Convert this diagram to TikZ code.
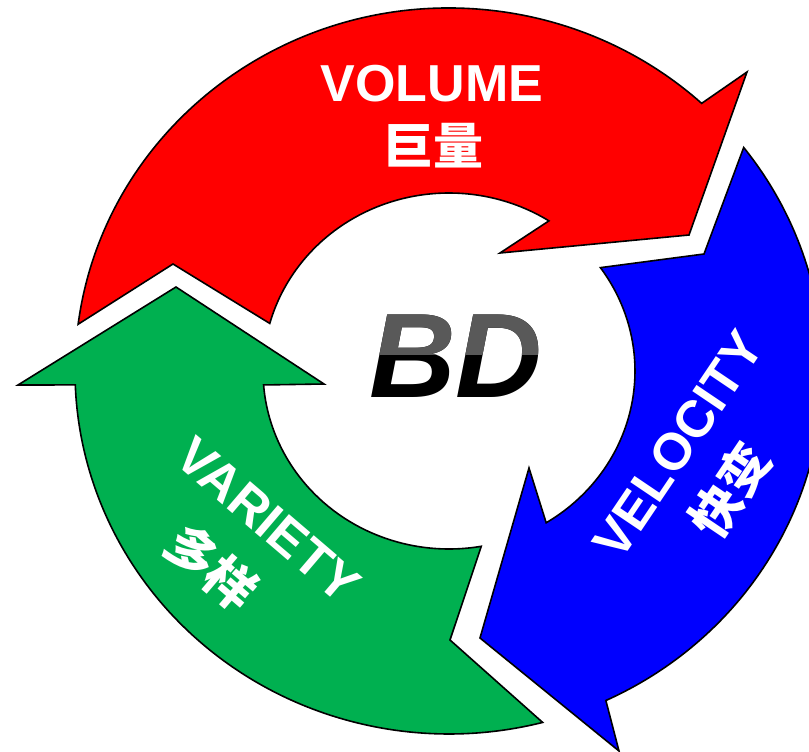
\documentclass[tikz,border=0pt]{standalone}
\usepackage{fontspec}
\newfontfamily\arial{Liberation Sans}
\newfontfamily\cjk{Noto Sans CJK SC}
\definecolor{vred}{RGB}{255,0,0}
\definecolor{vblue}{RGB}{0,0,255}
\definecolor{vgreen}{RGB}{0,176,80}
\definecolor{bdgray}{RGB}{89,89,89}

\begin{document}
\begin{tikzpicture}[
		x=1pt, y=1pt,
		every node/.style = {inner sep=0pt},
		vband/.style = {draw=black, line width=1.6pt, line join=miter, miter limit=10},
		vword/.style = {text=white, font=\arial\bfseries\fontsize{52}{60}\selectfont},
		vhan/.style = {text=white, font=\cjk\bfseries\fontsize{50}{60}\selectfont},
		bdword/.style = {font=\arial\bfseries\itshape\fontsize{120}{130}\selectfont}]

		\clip (-449,-381) rectangle (360,371);

		% volume
		\filldraw[vband, fill=vred] (172.6:374 and 363)
			arc[start angle=172.6, end angle=47.5, x radius=374, y radius=363]
			-- (298,299) -- (240,136) -- (51,118)
			-- (57.5:186 and 178)
			arc[start angle=57.5, end angle=164.5, x radius=186, y radius=178]
			-- (-276,107) -- cycle;

		% velocity
		\filldraw[vband, fill=vblue] (38:374 and 363)
			arc[start angle=38, end angle=-65.2, x radius=374, y radius=363]
			-- (170,-380) -- (31,-267) -- (80,-97)
			-- (-58.5:186 and 178)
			arc[start angle=-58.5, end angle=35.5, x radius=186, y radius=178]
			-- (255,117) -- cycle;

		% variety
		\filldraw[vband, fill=vgreen] (-75.5:374 and 363)
			arc[start angle=-75.5, end angle=-177.8, x radius=374, y radius=363]
			-- (-431,-14) -- (-273,84) -- (-125,-13)
			-- (-175.5:186 and 178)
			arc[start angle=-175.5, end angle=-80, x radius=186, y radius=178]
			-- (1,-269) -- cycle;

		\node[vword, anchor=base] (volume) at (-17,269) {VOLUME};
		\node[vhan] (juliang) at (-15,225) {巨量};
		\node[vword, rotate=56] (velocity) at (229,-74) {VELOCITY};
		\node[vhan, rotate=56] (kuaibian) at (281,-119) {快变};
		\node[vword, rotate=-40.5] (variety) at (-181,-149) {VARIETY};
		\node[vhan, rotate=-40.5] (duoyang) at (-237,-196) {多样};

		% two-tone BD
		\node[bdword, text=black] (bd) at (7,15) {BD};
		\begin{scope}
			\clip (-120,16) rectangle (140,120);
			\node[bdword, text=bdgray] (bdtop) at (7,15) {BD};
		\end{scope}
\end{tikzpicture}
\end{document}
